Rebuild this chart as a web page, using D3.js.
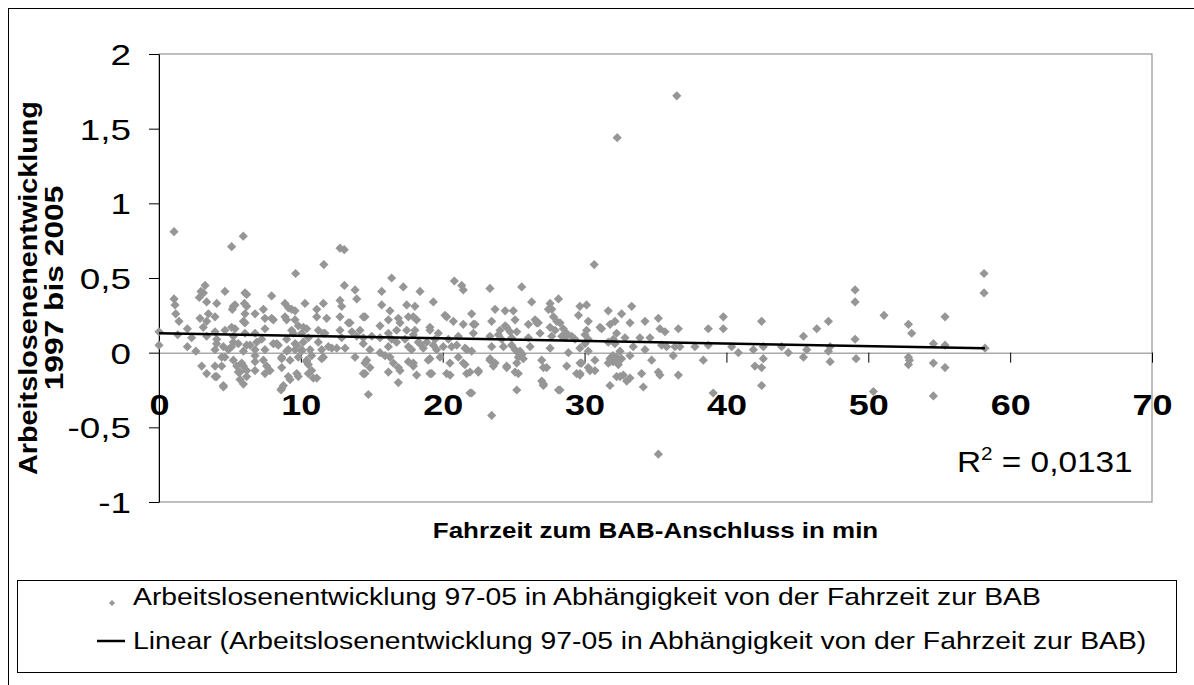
<!DOCTYPE html>
<html><head><meta charset="utf-8">
<script src="https://cdn.jsdelivr.net/npm/d3@7"></script>
<style>body{margin:0;background:#fff}svg{display:block;font-family:"Liberation Sans",Arial,sans-serif}</style>
</head><body><svg id="c" width="1194" height="685"></svg>
<script>
const xTicks=[0,10,20,30,40,50,60,70];
const yTicks=[-1,-0.5,0,0.5,1,1.5,2];
const xTitle="Fahrzeit zum BAB-Anschluss in min";
const yTitleLines=["Arbeitslosenenentwicklung","1997 bis 2005"];
const legendLabels=["Arbeitslosenentwicklung 97-05 in Abhängigkeit von der Fahrzeit zur BAB","Linear (Arbeitslosenentwicklung 97-05 in Abhängigkeit von der Fahrzeit zur BAB)"];
const rSquared="0,0131";
const trendIntercept=0.13, trendSlope=-0.00172;
// [Fahrzeit (min), Arbeitslosenentwicklung]
const points=[
[0,0.14],[0,0.05],[1.06,0.81],[1.06,0.36],[1.13,0.32],[1.18,0.26],[1.41,0.21],[1.32,0.12],[2.0,0.16],[2.0,0.04],[2.3,0.10],[2.6,0.01],
[2.96,0.41],[3.25,0.45],[3.13,0.40],[2.84,0.37],[3.36,0.34],[2.89,0.23],[3.48,0.26],[3.36,0.21],[3.95,0.24],[4.07,0.33],[4.65,0.41],[3.95,0.14],[4.07,0.09],[3.95,0.02],[4.65,0.15],[4.54,0.04],[4.42,-0.03],[3.01,-0.09],[3.36,-0.14],[3.95,-0.09],[4.07,-0.16],[4.54,-0.22],
[5.36,0.32],[5.17,0.29],[5.36,0.16],[6.06,0.40],[6.02,0.33],[6.06,0.26],[5.95,0.21],[5.24,0.11],[5.12,0.04],[6.06,0.13],[6.18,0.05],[5.95,0.01],[5.24,-0.05],[5.48,-0.09],[5.95,-0.09],[6.18,-0.16],[5.95,-0.21],[5.71,-0.13],
[5.12,0.71],[5.94,0.78],
[6.77,0.26],[7.36,0.29],[7.47,0.23],[7.94,0.38],[8.06,0.22],[7.47,0.16],[6.77,0.13],[7.24,0.09],[6.77,0.02],[7.47,0.02],[7.36,-0.05],[7.47,-0.14],[6.77,-0.06],[7.83,-0.12],[8.06,0.06],
[8.88,0.33],[9.12,0.30],[9.59,0.28],[8.88,0.24],[9.59,0.22],[10.29,0.33],[9.35,0.15],[9.82,0.18],[10.41,0.16],[10.06,0.13],[9.0,0.09],[8.41,0.05],[9.59,0.06],[10.17,0.07],[10.53,0.10],[9.0,0.01],[9.59,0.02],[10.06,0.02],[10.65,0.02],[8.65,-0.04],[9.24,-0.05],[9.82,-0.03],[10.41,-0.05],[8.65,-0.10],[9.12,-0.16],[8.77,-0.22],[8.6,-0.25],[9.82,-0.16],[10.53,-0.08],[11.12,-0.17],[10.76,-0.12],
[9.63,0.53],[11.62,0.59],[11.12,0.24],[11.59,0.33],[11.82,0.23],[11.23,0.15],[11.7,0.13],[11.23,0.07],[11.47,0.02],[11.94,0.04],[11.47,-0.04],[12.53,0.03],[13.12,0.03],
[13.07,0.45],[12.76,0.35],[12.88,0.31],[12.76,0.24],[12.76,0.15],[13.35,0.20],[13.82,0.42],[13.94,0.36],[13.6,0.14],[14.17,0.15],[14.52,0.24],[14.4,0.10],[13.82,-0.03],[14.52,-0.07],[14.52,-0.14],[14.76,-0.28],
[12.76,0.70],[13.06,0.69],
[3.12,0.17],[3.36,0.11],[4.06,0.06],[4.65,-0.03],[4.42,-0.09],[3.95,-0.16],[4.54,-0.23],[5.24,0.31],[5.12,0.17],[5.24,0.07],[4.89,0.02],[6.18,0.39],[6.18,0.31],[6.06,0.20],[5.59,0.06],[6.42,0.05],[5.83,-0.07],[5.59,-0.13],[6.18,-0.12],[5.71,-0.18],
[6.89,0.07],[6.77,-0.02],[6.77,-0.12],[7.59,-0.09],[7.94,0.23],[8.3,0.06],[8.65,-0.03],[8.65,-0.24],[9.35,0.29],[9.0,0.22],[9.47,0.13],[9.71,0.05],[9.12,0.02],[10.06,0.01],[10.18,0.17],[11.12,0.29],[11.59,0.13],[10.76,-0.02],[10.41,-0.06],[10.53,-0.14],[9.71,-0.14],[9.24,-0.18],[10.88,-0.17],[11.59,-0.03],[12.18,0.03],[12.88,0.10],[13.47,0.20],[14.4,0.24],[13.94,0.11],[14.4,0.06],[14.4,-0.14],
[15.0,0.11],[14.87,0.02],[14.64,-0.05],[14.87,-0.10],
[15.7,0.41],[15.7,0.32],[15.58,0.18],[16.17,0.22],[16.28,0.28],[16.4,0.50],[16.75,0.15],[16.87,0.23],[16.17,0.13],[16.4,0.09],[16.17,0.04],[15.58,0.0],[16.28,-0.03],[16.17,-0.13],[16.87,-0.10],[16.87,-0.20],
[17.22,0.44],[17.46,0.32],[17.46,0.15],[17.58,0.24],[17.34,0.09],[17.58,0.04],[17.81,0.02],[17.58,-0.06],[17.93,-0.09],[18.16,-0.15],[18.04,0.31],[18.16,0.22],[18.04,0.15],[18.4,0.41],[18.28,0.07],[18.63,0.03],[18.87,0.07],[19.1,0.15],[18.98,-0.05],[19.1,-0.14],[19.34,0.34],[19.46,0.09],[19.57,0.02],[19.69,0.13],[19.81,-0.03],[20.04,0.04],[20.16,0.25],[20.4,0.09],[20.51,-0.07],[20.28,-0.14],[20.63,0.04],[20.75,0.21],[20.82,0.48],[21.34,0.45],[21.45,0.42],[21.45,0.19],[21.1,0.11],[21.57,0.03],[21.1,-0.03],[21.57,-0.08],[21.69,-0.14],[22.04,-0.27],[22.04,0.26],[22.16,0.19],[22.51,-0.13],[22.16,0.13],
[15.93,-0.02],[16.52,-0.07],[16.99,-0.12],[17.93,-0.07],[19.1,-0.04],[19.22,-0.14],[20.52,-0.15],[21.45,-0.07],[21.92,-0.13],[22.51,-0.12],[21.92,-0.27],[15.58,0.10],[16.75,0.07],[17.93,0.12],[18.4,0.06],[19.34,0.05],[20.99,0.05],[21.7,0.02],[22.04,0.01],[16.99,0.20],[17.93,0.24],[19.1,0.17],[20.28,0.24],[22.28,0.19],
[23.33,0.43],[23.45,0.21],[23.69,0.29],[23.33,0.11],[23.45,0.04],[23.33,-0.05],[23.57,-0.09],[23.45,-0.42],[24.04,0.15],[24.16,0.09],[24.28,0.04],[24.4,0.28],[24.4,0.18],[24.51,-0.10],[24.75,0.14],[24.98,0.28],[25.1,0.22],[24.86,0.10],[25.1,0.02],[25.33,-0.03],[25.45,0.01],[25.57,0.44],[25.22,-0.07],[25.33,-0.14],[25.22,-0.25],[25.68,-0.04],[26.04,0.10],[26.16,0.04],[26.27,0.34],[26.51,0.22],[26.74,0.20],[26.86,0.13],[26.98,-0.05],[26.98,-0.19],[27.1,-0.22],[27.33,-0.10],[27.57,0.03],[27.57,0.33],[27.69,0.29],[27.81,0.24],[28.04,0.21],[28.16,0.36],[27.92,0.15],[28.5,0.16],[28.16,-0.25],[28.74,0.13],[28.63,0.10],[28.86,0.0],[29.33,0.09],[29.57,0.25],[29.68,-0.07],[29.44,-0.14],
[23.92,0.12],[24.51,0.17],[24.86,0.05],[25.22,0.14],[26.04,0.19],[26.63,0.20],[27.57,0.17],[27.68,0.11],[28.39,0.11],[29.1,0.11],[25.45,0.0],[25.6,-0.01],[25.3,0.0],[24.51,-0.09],[25.1,-0.13],[27.1,-0.10],[27.1,-0.21],[28.27,-0.25],[28.74,-0.09],[29.68,-0.14],[23.34,-0.04],[23.69,-0.07],[27.45,0.29],[28.27,0.20],
[30.68,0.59],[29.67,0.31],[30.14,0.32],[30.26,0.21],[30.14,0.15],[30.26,0.09],[29.67,0.03],[30.26,0.01],[30.73,-0.05],[29.79,-0.07],[30.26,-0.10],[30.73,-0.12],[29.67,-0.15],
[31.2,0.16],[31.67,0.28],[32.14,0.21],[32.61,0.26],[31.67,0.07],[32.14,0.06],[31.79,-0.04],[32.02,-0.06],[32.26,-0.03],[31.67,-0.07],[32.38,-0.08],[32.26,-0.16],[31.79,-0.22],[32.61,-0.04],[32.73,-0.15],[33.2,-0.17],[33.32,0.31],[33.2,0.20],[33.43,0.04],[33.2,-0.02],[33.9,0.10],[34.02,-0.14],[34.14,-0.23],[34.26,0.21],[34.26,0.02],[34.73,-0.05],[34.61,0.10],
[31.9,-0.03],[32.1,-0.05],[31.8,-0.06],[32.0,-0.02],[32.4,-0.05],[30.03,0.12],[30.03,0.06],[31.09,0.17],[31.8,0.19],[32.26,0.13],[32.85,0.10],[32.03,0.09],[32.5,0.01],[32.5,-0.16],[32.97,-0.19],[30.38,-0.12],
[35.2,0.23],[35.31,0.16],[35.67,0.14],[35.43,0.05],[35.2,-0.13],[35.31,-0.15],[35.78,0.04],[36.25,-0.02],[36.61,0.16],[36.37,0.04],[36.72,0.04],[36.61,-0.15],[37.78,0.04],[38.37,-0.05],[38.72,0.16],[38.72,0.05],[39.07,-0.27],[39.78,0.24],[39.78,0.16],[40.37,0.04],[40.84,0.0],[41.9,0.02],[42.01,-0.09],[42.48,0.21],[42.6,0.04],[42.48,-0.10],[42.6,-0.04],[42.48,-0.22],[43.89,0.04],[44.36,0.0],
[45.43,0.11],[45.66,0.02],[45.43,-0.03],[46.37,0.16],[47.19,0.21],[47.31,0.04],[47.31,-0.06],[47.19,0.01],[49.07,0.42],[49.07,0.34],[49.07,0.09],[49.14,-0.04],[50.36,-0.26],[51.11,0.25],[52.83,0.19],[53.06,0.13],[52.83,-0.03],[52.83,-0.08],[52.9,-0.05],[54.59,0.06],[54.59,-0.07],[54.59,-0.29],[55.41,0.24],[55.41,0.05],[55.41,-0.10],[58.16,0.53],[58.16,0.40],[58.23,0.03],
[32.3,1.44],[36.5,1.72],[35.2,-0.68]
];

const svg=d3.select("#c");
const x=d3.scaleLinear().domain([0,70]).range([159,1152]);
const y=d3.scaleLinear().domain([-1,2]).range([502,54]);
const fmt=d=>String(d).replace(".",",");
const SX=1.2;

// outer frame
svg.append("rect").attr("x",8.5).attr("y",8.5).attr("width",1200).attr("height",700).attr("fill","#fff").attr("stroke","#000");

// plot area border
svg.append("rect").attr("x",x(0)).attr("y",y(2)).attr("width",x(70)-x(0)).attr("height",y(-1)-y(2))
  .attr("fill","#fff").attr("stroke","#808080").attr("stroke-width",1);

// y axis
const YSX=1.27;
const ya=svg.append("g").attr("transform",`translate(${x(0)},0)`)
  .call(d3.axisLeft(y).tickValues(yTicks).tickSize(10).tickPadding(18).tickFormat(fmt).tickSizeOuter(0));
ya.select(".domain").attr("stroke","#000");
ya.selectAll(".tick line").attr("stroke","#000");
ya.selectAll(".tick text").attr("font-size",29).attr("fill","#000").attr("font-family","Liberation Sans, Arial, sans-serif")
  .attr("dy","0.36em")
  .attr("transform",function(){const xx=+d3.select(this).attr("x");return `translate(${xx*(1-YSX)},0) scale(${YSX},1)`;});

// x axis at y=0
const xa=svg.append("g").attr("transform",`translate(0,${y(0)})`)
  .call(d3.axisBottom(x).tickValues(xTicks).tickSize(10).tickPadding(31).tickSizeOuter(0).tickFormat(d3.format("d")));
xa.select(".domain").attr("stroke","#808080");
xa.selectAll(".tick line").attr("stroke","#000");
xa.selectAll(".tick text").attr("font-size",30).attr("font-weight","bold").attr("fill","#000")
  .attr("font-family","Liberation Sans, Arial, sans-serif").attr("transform",`scale(${SX},1)`);

// points
const dia=(cx,cy,r)=>`M${cx},${cy-r}L${cx+r},${cy}L${cx},${cy+r}L${cx-r},${cy}Z`;
svg.append("g").selectAll("path").data(points).join("path")
  .attr("d",d=>dia(x(d[0]),y(d[1]),4.6)).attr("fill","#969696");

// trend line
const xMin=d3.min(points,d=>d[0]), xMax=d3.max(points,d=>d[0]);
svg.append("line").attr("x1",x(xMin)).attr("y1",y(trendIntercept+trendSlope*xMin))
  .attr("x2",x(xMax)).attr("y2",y(trendIntercept+trendSlope*xMax)).attr("stroke","#000").attr("stroke-width",2.5);

// R²
const rt=svg.append("text").attr("transform",`translate(957,472) scale(1.15,1)`).attr("font-size",29).attr("fill","#000");
rt.append("tspan").text("R");
rt.append("tspan").attr("dy",-12).attr("font-size",18).text("2");
rt.append("tspan").attr("dy",12).text(" = "+rSquared);

// axis titles
svg.append("text").attr("transform",`translate(${(x(0)+x(70))/2},538) scale(1.18,1)`).attr("text-anchor","middle")
  .attr("font-size",22).attr("font-weight","bold").text(xTitle);
const yTitleScale=[1.15,1.27];
yTitleLines.forEach((t,i)=>{
  svg.append("text").attr("transform",`translate(${37+i*26},288) rotate(-90) scale(${yTitleScale[i]},1)`).attr("text-anchor","middle")
    .attr("font-size",25).attr("font-weight","bold").text(t);
});

// legend
svg.append("rect").attr("x",17.5).attr("y",580.5).attr("width",1159).attr("height",92).attr("fill","#fff").attr("stroke","#000");
svg.append("path").attr("d",dia(112,603,3)).attr("fill","#969696");
svg.append("line").attr("x1",97).attr("x2",125).attr("y1",641).attr("y2",641).attr("stroke","#000").attr("stroke-width",2.5);
legendLabels.forEach((t,i)=>{
  svg.append("text").attr("transform",`translate(133,${605+i*44}) scale(1.18,1)`).attr("font-size",24).text(t);
});
</script></body></html>
